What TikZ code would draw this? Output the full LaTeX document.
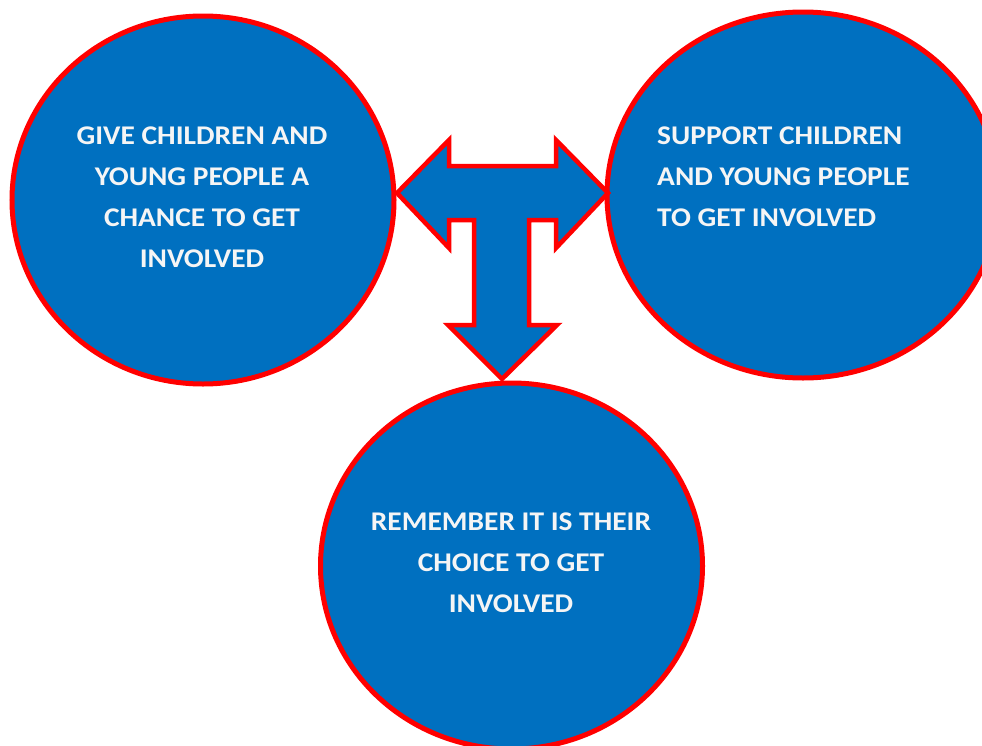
\documentclass[tikz,border=0pt]{standalone}
\usepackage{fontspec}
\setmainfont{Carlito}[FakeStretch=1.09]
\usetikzlibrary{shapes.geometric}

\definecolor{circblue}{HTML}{0070C0}
\definecolor{rimred}{HTML}{FF0000}

\tikzset{
  bubble/.style={ellipse, draw=rimred, fill=circblue, line width=5pt,
    minimum width=382pt, minimum height=368pt, inner sep=0pt},
  bubbletext/.style={text=white!96!black, inner sep=0pt,
    font=\fontsize{27}{41}\selectfont\bfseries}
}

\begin{document}
\begin{tikzpicture}[x=1pt,y=-1pt]
\useasboundingbox (0,0) rectangle (982,745);
\clip (0,0) rectangle (982,745);
% the three circles
\node [bubble] (give) at (203,200) {};
\node [bubble, minimum width=392pt, minimum height=366pt] (support) at (803,195) {};
\node [bubble, minimum height=366pt] (remember) at (511.5,566) {};
% the T shaped arrow between them
\draw [rimred, fill=circblue, line width=4.5pt, line join=miter]
  (397,193) -- (449,140) -- (449,166) -- (556,166) -- (556,140) -- (608,193)
  -- (556,248) -- (556,220) -- (529,220) -- (529,325) -- (557,325) -- (502,379)
  -- (448,325) -- (474,325) -- (474,220) -- (449,220) -- (449,248) -- cycle;
% texts
\node [bubbletext, align=center] (givetext) at (202,197)
  {GIVE CHILDREN AND\\YOUNG PEOPLE A\\CHANCE TO GET\\INVOLVED};
\node [bubbletext, align=left, anchor=west] (supporttext) at (657,176.5)
  {SUPPORT CHILDREN\\AND YOUNG PEOPLE\\TO GET INVOLVED};
\node [bubbletext, align=center] (remembertext) at (511,562.5)
  {REMEMBER IT IS THEIR\\CHOICE TO GET\\INVOLVED};
\end{tikzpicture}
\end{document}
